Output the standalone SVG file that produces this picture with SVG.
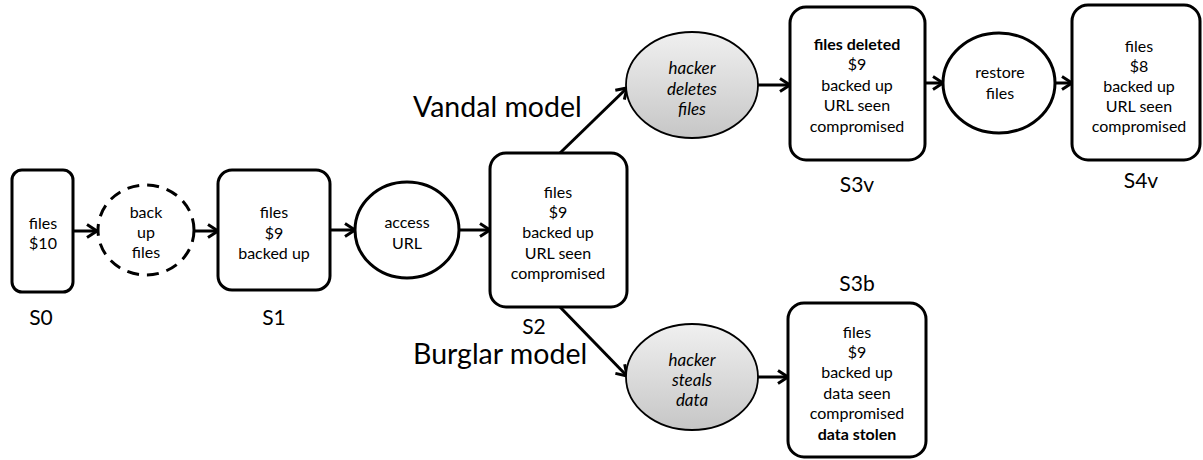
<svg xmlns="http://www.w3.org/2000/svg" width="1203" height="460" viewBox="0 0 1203 460">
<style>
.box{fill:#fff;stroke:#000;stroke-width:3}
.circ{fill:#fff;stroke:#000;stroke-width:3}
.gray{fill:url(#g);stroke:#000;stroke-width:1.8}
.t{font-family:Lato,"Liberation Sans",sans-serif;font-size:16px;fill:#000;text-anchor:middle}
.i{font-style:italic;font-size:17px}
.b{font-weight:bold}
.lab{font-family:Lato,"Liberation Sans",sans-serif;font-size:21px;fill:#000;text-anchor:middle}
.big{font-family:Lato,"Liberation Sans",sans-serif;font-size:28.5px;fill:#000}
.c{stroke:#000;stroke-width:3;fill:none;marker-end:url(#a)}
</style>
<defs>
<linearGradient id="g" x1="0" y1="0" x2="0" y2="1">
<stop offset="0" stop-color="#f0f0f0"/>
<stop offset="1" stop-color="#c6c6c6"/>
</linearGradient>
<marker id="a" markerUnits="userSpaceOnUse" markerWidth="14" markerHeight="16" viewBox="0 0 14 16" refX="11" refY="8" orient="auto">
<path d="M1,1.5 L11,8 L1,14.5" fill="none" stroke="#000" stroke-width="3"/>
</marker>
</defs>

<g id="connectors">
<path class="c" d="M73,231 L97,231"/>
<path class="c" d="M195,231 L218,231"/>
<path class="c" d="M330,230 L355,230"/>
<path class="c" d="M460,230 L490,230"/>
<path class="c" d="M560,153 L627,88"/>
<path class="c" d="M758,85 L790,85"/>
<path class="c" d="M925,83 L943,83"/>
<path class="c" d="M1055,83 L1072,83"/>
<path class="c" d="M560,307 L627,376"/>
<path class="c" d="M758,377 L788,377"/>
</g>

<g id="S0">
<rect class="box" x="12" y="170" width="61" height="122" rx="10"/>
<text class="t" x="43" y="229">files</text>
<text class="t" x="43" y="249">$10</text>
<text class="lab" x="41" y="325">S0</text>
</g>

<g id="backup">
<ellipse cx="146" cy="230" rx="48" ry="45" fill="#fff" stroke="#000" stroke-width="3" stroke-dasharray="12,8"/>
<text class="t" x="146" y="218">back</text>
<text class="t" x="146" y="238">up</text>
<text class="t" x="146" y="258">files</text>
</g>

<g id="S1">
<rect class="box" x="218" y="170" width="112" height="120" rx="14"/>
<text class="t" x="274" y="218">files</text>
<text class="t" x="274" y="239">$9</text>
<text class="t" x="274" y="259">backed up</text>
<text class="lab" x="274" y="325">S1</text>
</g>

<g id="access">
<ellipse class="circ" cx="407" cy="230" rx="52" ry="48"/>
<text class="t" x="407" y="228">access</text>
<text class="t" x="407" y="249">URL</text>
</g>

<g id="S2">
<rect class="box" x="490" y="153" width="137" height="154" rx="16"/>
<text class="t" x="558" y="198">files</text>
<text class="t" x="558" y="218">$9</text>
<text class="t" x="558" y="238">backed up</text>
<text class="t" x="558" y="259">URL seen</text>
<text class="t" x="558" y="279">compromised</text>
<text class="lab" x="534" y="334">S2</text>
</g>

<text class="big" x="413" y="117">Vandal model</text>
<text class="big" x="413" y="364">Burglar model</text>

<g id="deletes">
<ellipse class="gray" cx="692" cy="85" rx="66" ry="53"/>
<text class="t i" x="692" y="74">hacker</text>
<text class="t i" x="692" y="95">deletes</text>
<text class="t i" x="692" y="115">files</text>
</g>

<g id="S3v">
<rect class="box" x="790" y="7" width="135" height="153" rx="16"/>
<text class="t b" x="857" y="50">files deleted</text>
<text class="t" x="857" y="70">$9</text>
<text class="t" x="857" y="91">backed up</text>
<text class="t" x="857" y="111">URL seen</text>
<text class="t" x="857" y="132">compromised</text>
<text class="lab" x="857" y="192">S3v</text>
</g>

<g id="restore">
<ellipse class="circ" cx="999" cy="83" rx="56" ry="50"/>
<text class="t" x="1000" y="78">restore</text>
<text class="t" x="1000" y="99">files</text>
</g>

<g id="S4v">
<rect class="box" x="1072" y="5" width="128" height="155" rx="16"/>
<text class="t" x="1139" y="52">files</text>
<text class="t" x="1139" y="72">$8</text>
<text class="t" x="1139" y="92">backed up</text>
<text class="t" x="1139" y="112">URL seen</text>
<text class="t" x="1139" y="132">compromised</text>
<text class="lab" x="1141" y="188">S4v</text>
</g>

<g id="steals">
<ellipse class="gray" cx="692" cy="377" rx="66" ry="53"/>
<text class="t i" x="692" y="366">hacker</text>
<text class="t i" x="692" y="386">steals</text>
<text class="t i" x="692" y="406">data</text>
</g>

<g id="S3b">
<rect class="box" x="788" y="303" width="138" height="154" rx="16"/>
<text class="t" x="857" y="338">files</text>
<text class="t" x="857" y="358">$9</text>
<text class="t" x="857" y="378">backed up</text>
<text class="t" x="857" y="399">data seen</text>
<text class="t" x="857" y="419">compromised</text>
<text class="t b" x="857" y="440">data stolen</text>
<text class="lab" x="857" y="291">S3b</text>
</g>
</svg>
